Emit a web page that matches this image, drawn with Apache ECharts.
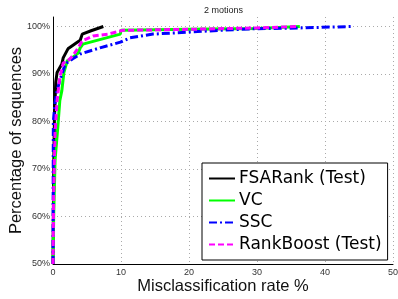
<!DOCTYPE html>
<html><head><meta charset="utf-8">
<script src="https://cdn.jsdelivr.net/npm/echarts@6/dist/echarts.min.js"></script>
<style>html,body{margin:0;padding:0;background:#fff}#c{width:398px;height:299px}</style>
</head><body><div id="c"></div>
<script>
const titleText = '2 motions';
const seriesNames = ['FSARank (Test)', 'VC', 'SSC', 'RankBoost (Test)'];
const fsaX = [0, 0.1, 0.2, 0.3, 0.4, 0.6, 1.3, 1.5, 2.2, 3.2, 4.0, 4.3, 5.6, 7.4];
const fsaY = [50, 70, 80, 84.4, 88.2, 90.3, 92.1, 93.4, 95.3, 96.3, 97.1, 98.4, 99.1, 100];
const vcX = [0, 0.1, 0.3, 0.7, 1.0, 1.3, 1.6, 2.1, 2.8, 3.7, 4.0, 4.4, 9.9, 10.0, 20, 30, 36.3];
const vcY = [50, 60, 71.8, 78.7, 84.4, 86.5, 90.3, 92.8, 93.4, 94.4, 95.5, 96.3, 98.4, 99.2, 99.4, 99.6, 100];
const sscX = [0, 0.05, 0.3, 0.6, 1.0, 1.8, 2.9, 4.0, 6.9, 9.9, 11.3, 14.7, 19.7, 24.6, 29.4, 36.3, 44];
const sscY = [50, 80, 84, 86.5, 88.6, 92.1, 93.2, 94.2, 95.5, 96.7, 97.6, 98.4, 98.8, 99.2, 99.5, 99.7, 100];
const rbX = [0, 0.1, 0.3, 0.6, 1.0, 1.5, 2.2, 2.9, 3.7, 4.3, 5.9, 8.1, 10.3, 20, 30, 36];
const rbY = [50, 65, 77.5, 84.4, 89.2, 92.3, 92.8, 93.8, 95.5, 97.0, 98.0, 98.4, 99.2, 99.4, 99.7, 100];
const xTicks = [0, 10, 20, 30, 40, 50];
const yTicks = [50, 60, 70, 80, 90, 100];

const pairs = (xs, ys) => xs.map((x, i) => [x, ys[i]]);
const chart = echarts.init(document.getElementById('c'), null, {renderer: 'canvas'});
const font = 'Liberation Sans, Arial, sans-serif';
const mk = (name, data, color, type) => ({
  name, type: 'line', data, symbol: 'none', clip: false,
  lineStyle: {color, width: 3, type}, itemStyle: {color}
});
chart.setOption({
  animation: false,
  title: {text: titleText, left: 199, top: 1, textStyle: {fontFamily: font, fontSize: 9, fontWeight: 'normal', color: '#222'}},
  grid: {left: 53, right: 5, top: 17, bottom: 35, outerBoundsMode: 'none', containLabel: false},
  xAxis: {
    type: 'value', min: xTicks[0], max: xTicks[xTicks.length - 1], interval: 10,
    name: 'Misclassification rate %', nameLocation: 'middle', nameGap: 14, nameMoveOverlap: false,
    nameTextStyle: {fontFamily: font, fontSize: 16.5, color: '#111'},
    axisLine: {show: true, lineStyle: {color: '#000', width: 1}},
    axisTick: {show: false},
    axisLabel: {fontFamily: font, fontSize: 9, color: '#333', margin: 4},
    splitLine: {show: true, lineStyle: {color: '#aaa', type: [1, 3], width: 1}}
  },
  yAxis: {
    type: 'value', min: 50, max: 102, interval: 10,
    name: 'Percentage of sequences', nameLocation: 'middle', nameGap: 28, nameMoveOverlap: false,
    nameTextStyle: {fontFamily: font, fontSize: 16.5, color: '#111'},
    axisLine: {show: true, lineStyle: {color: '#000', width: 1}},
    axisTick: {show: false},
    axisLabel: {fontFamily: font, fontSize: 9, color: '#333', margin: 3, showMaxLabel: false,
      formatter: v => yTicks.includes(v) ? v + '%' : ''},
    splitLine: {show: true, showMaxLine: false, lineStyle: {color: '#aaa', type: [1, 3], width: 1}}
  },
  legend: {
    orient: 'vertical', left: 202, top: 163,
    data: seriesNames,
    itemWidth: 26, itemHeight: 14, itemGap: 5,
    itemStyle: {opacity: 0},
    backgroundColor: '#fff', borderColor: '#000', borderWidth: 1, borderRadius: 0,
    padding: [7, 6, 7, 6],
    textStyle: {fontFamily: 'DejaVu Sans, sans-serif', fontSize: 17, lineHeight: 17, color: '#000', padding: [0, 0, 0, -1]}
  },
  series: [
    mk(seriesNames[0], pairs(fsaX, fsaY), '#000000', 'solid'),
    mk(seriesNames[1], pairs(vcX, vcY), '#00ff00', 'solid'),
    mk(seriesNames[2], pairs(sscX, sscY), '#0000ff', [8, 3, 2, 3]),
    mk(seriesNames[3], pairs(rbX, rbY), '#ff00ff', [6, 3])
  ]
});
</script></body></html>
